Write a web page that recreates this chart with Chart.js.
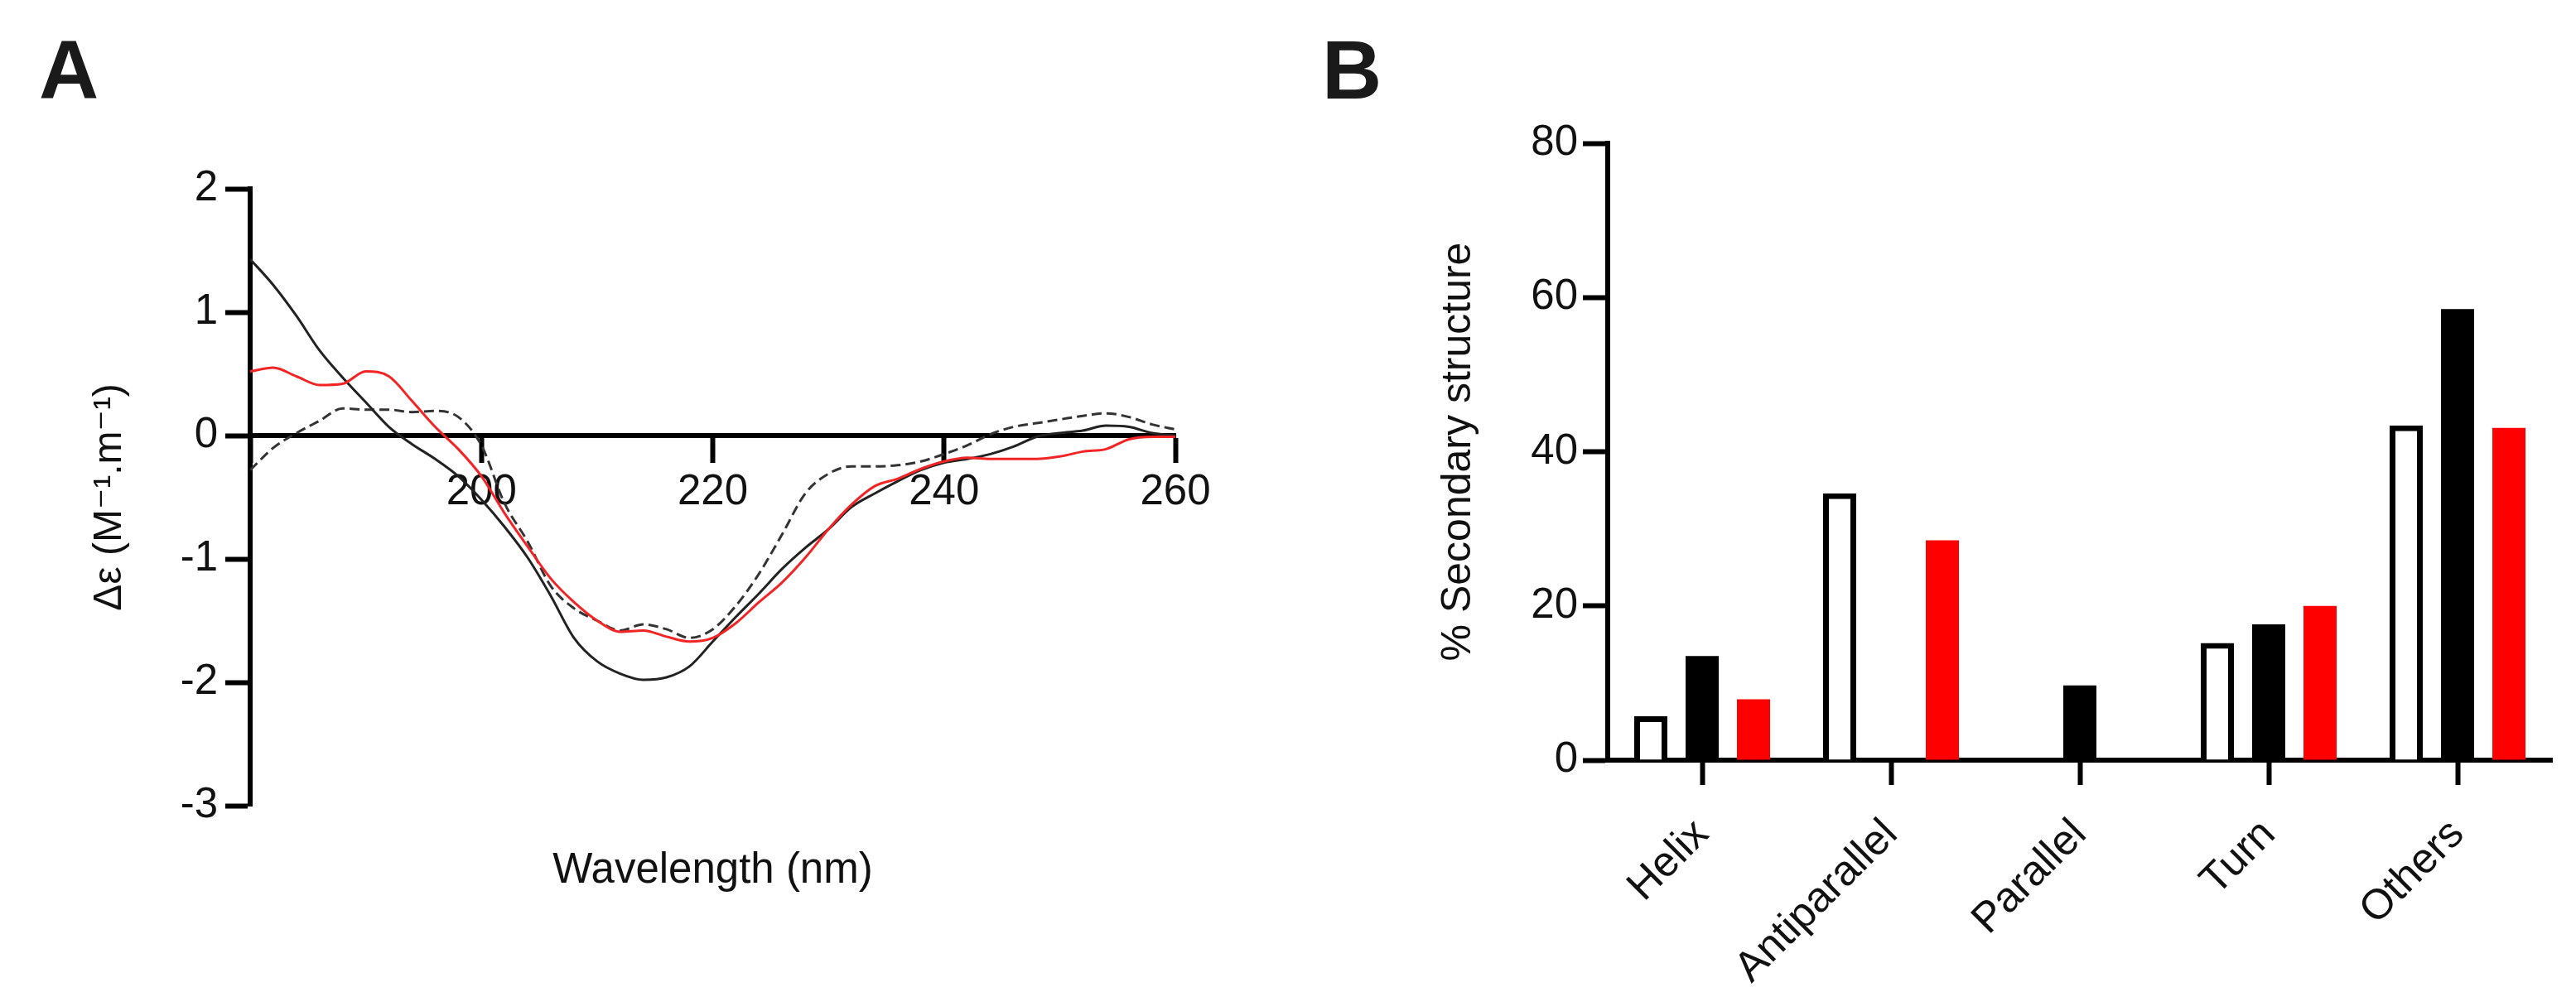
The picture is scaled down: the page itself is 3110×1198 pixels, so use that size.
<!DOCTYPE html>
<html lang="en">
<head>
    <meta charset="UTF-8">
    <title>CD spectra and secondary structure</title>
    <style>
        html, body { margin: 0; padding: 0; background: #fff; }
        #wrap { position: relative; width: 3110px; height: 1198px; }
        canvas { position: absolute; top: 0; }
        .panel { position: absolute; font: bold 100px 'Liberation Sans', Arial, sans-serif; line-height: 1; color: #1a1a1a; }
    </style>
</head>
<body>
<div id="wrap">
    <canvas id="cd" width="1555" height="1198" style="left:0"></canvas>
    <canvas id="ss" width="1555" height="1198" style="left:1555px"></canvas>
    <div class="panel" style="left:47px;top:34px">A</div>
    <div class="panel" style="left:1596px;top:34px">B</div>
</div>
<script src="https://cdn.jsdelivr.net/npm/chart.js"></script>
<script>
    // panel A: CD spectra, every 2 nm
    const wavelengths = [180, 182, 184, 186, 188, 190, 192, 194, 196, 198, 200, 202, 204, 206, 208, 210, 212, 214, 216, 218, 220,
        222, 224, 226, 228, 230, 232, 234, 236, 238, 240, 242, 244, 246, 248, 250, 252, 254, 256, 258, 260];
    const cdSolid = [1.43, 1.22, 0.97, 0.69, 0.47, 0.27, 0.07, -0.07, -0.19, -0.33, -0.52, -0.74, -0.99, -1.30, -1.64, -1.83, -1.93, -1.98, -1.96, -1.87, -1.67,
        -1.47, -1.28, -1.08, -0.91, -0.76, -0.58, -0.47, -0.37, -0.28, -0.22, -0.19, -0.15, -0.09, -0.01, 0.02, 0.04, 0.08, 0.07, 0.02, 0.00];
    const cdRed = [0.52, 0.55, 0.48, 0.41, 0.42, 0.52, 0.48, 0.28, 0.07, -0.11, -0.33, -0.63, -0.90, -1.16, -1.35, -1.50, -1.59, -1.58, -1.63, -1.67, -1.64,
        -1.52, -1.35, -1.19, -0.99, -0.76, -0.56, -0.41, -0.35, -0.27, -0.21, -0.18, -0.19, -0.19, -0.19, -0.17, -0.13, -0.11, -0.03, -0.01, -0.01];
    const cdDashed = [-0.28, -0.10, 0.02, 0.12, 0.22, 0.21, 0.21, 0.19, 0.20, 0.15, -0.08, -0.55, -0.86, -1.22, -1.40, -1.50, -1.58, -1.53, -1.57, -1.64, -1.57,
        -1.38, -1.12, -0.80, -0.47, -0.31, -0.25, -0.25, -0.24, -0.21, -0.15, -0.08, 0.01, 0.07, 0.10, 0.13, 0.16, 0.18, 0.15, 0.09, 0.05];

    // panel B: % secondary structure
    const categories = ['Helix', 'Antiparallel', 'Parallel', 'Turn', 'Others'];
    const ssOpen = [5.7, 34.6, 0, 15.2, 43.4];
    const ssBlack = [13.5, 0, 9.7, 17.6, 58.5];
    const ssRed = [7.9, 28.5, 0, 20.0, 43.1];

    Chart.defaults.font.family = "'Liberation Sans', Arial, 'DejaVu Sans', sans-serif";
    Chart.defaults.font.size = 51;
    Chart.defaults.color = '#111';

    const toPoints = ys => wavelengths.map((x, i) => ({ x: x, y: ys[i] }));

    // shared axis look: thick black axis line, outward ticks, no grid
    const axisGrid = { drawOnChartArea: false, tickLength: 30, tickWidth: 6, tickColor: '#000' };
    const axisBorder = { width: 6, color: '#000' };

    new Chart(document.getElementById('cd'), {
        type: 'line',
        data: {
            datasets: [
                { data: toPoints(cdRed), borderColor: '#f22424', borderWidth: 3 },
                { data: toPoints(cdSolid), borderColor: '#222', borderWidth: 3 },
                { data: toPoints(cdDashed), borderColor: '#333', borderWidth: 3, borderDash: [12, 6] }
            ]
        },
        options: {
            responsive: false,
            devicePixelRatio: 1,
            animation: false,
            layout: { padding: { top: 228, right: 136, bottom: 0, left: 0 } },
            elements: { point: { radius: 0 }, line: { cubicInterpolationMode: 'monotone' } },
            plugins: { legend: { display: false }, tooltip: { enabled: false } },
            scales: {
                x: {
                    type: 'linear', min: 180, max: 260,
                    position: { y: 0 },
                    ticks: { stepSize: 20, padding: 8, callback: v => v === 180 ? '' : v },
                    grid: axisGrid,
                    border: axisBorder
                },
                // bottom axis only carries the title
                xt: {
                    type: 'linear', min: 180, max: 260,
                    position: 'bottom',
                    ticks: { display: false },
                    grid: { display: false },
                    border: { display: false },
                    title: { display: true, text: 'Wavelength (nm)', padding: { top: 0, bottom: 115 } },
                    afterFit: s => { s.height = 225; }
                },
                y: {
                    min: -3, max: 2,
                    ticks: { stepSize: 1, padding: 9 },
                    grid: axisGrid,
                    border: axisBorder,
                    title: { display: true, text: 'Δε (M⁻¹.m⁻¹)', font: { size: 48 }, padding: { top: 104, bottom: 0 } },
                    afterFit: s => { s.width = 302; }
                }
            }
        }
    });

    new Chart(document.getElementById('ss'), {
        type: 'bar',
        data: {
            labels: categories,
            datasets: [
                { data: ssOpen, backgroundColor: '#fff', borderColor: '#000', borderWidth: 7 },
                { data: ssBlack, backgroundColor: '#000' },
                { data: ssRed, backgroundColor: '#ff0000' }
            ]
        },
        options: {
            responsive: false,
            devicePixelRatio: 1,
            animation: false,
            layout: { padding: { top: 173, right: 29, bottom: 0, left: 0 } },
            datasets: { bar: { categoryPercentage: 0.816, barPercentage: 0.645 } },
            plugins: { legend: { display: false }, tooltip: { enabled: false } },
            scales: {
                x: {
                    ticks: { minRotation: 45, maxRotation: 45, autoSkip: false, padding: 30 },
                    grid: Object.assign({}, axisGrid, { offset: false }),
                    border: axisBorder,
                    afterFit: s => { s.height = 280; }
                },
                y: {
                    min: 0, max: 80,
                    ticks: { stepSize: 20, padding: 6 },
                    grid: axisGrid,
                    border: axisBorder,
                    title: { display: true, text: '% Secondary structure', font: { size: 50 }, padding: { top: 176, bottom: 0 } },
                    afterFit: s => { s.width = 386; }
                }
            }
        }
    });
</script>
</body>
</html>
